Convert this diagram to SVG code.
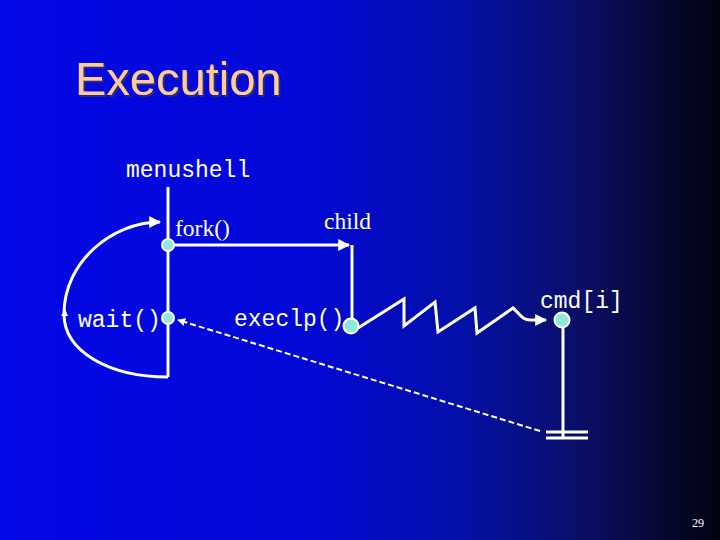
<svg xmlns="http://www.w3.org/2000/svg" width="720" height="540" viewBox="0 0 720 540">
<defs>
<linearGradient id="bg" x1="0" y1="0" x2="1" y2="0">
<stop offset="0" stop-color="#0308e6"/>
<stop offset="0.42" stop-color="#0208d6"/>
<stop offset="0.64" stop-color="#0410a8"/>
<stop offset="0.82" stop-color="#0a0e60"/>
<stop offset="1" stop-color="#020210"/>
</linearGradient>
<filter id="shadow" x="-5%" y="-10%" width="115%" height="130%">
<feOffset in="SourceAlpha" dx="2" dy="2" result="off"/>
<feFlood flood-color="#2a2a80"/>
<feComposite in2="off" operator="in" result="sh"/>
<feMerge><feMergeNode in="sh"/><feMergeNode in="SourceGraphic"/></feMerge>
</filter>
<marker id="ah" viewBox="0 0 10 10" refX="9" refY="5" markerWidth="4" markerHeight="4" orient="auto" markerUnits="strokeWidth">
<path d="M0,0 L10,5 L0,10 z" fill="#ffffff"/>
</marker>
<style>
.ln{stroke:#ffffff;stroke-width:3;fill:none}
.dot{fill:#8ee8e0;stroke:#ffffff;stroke-width:2}
.mono{font-family:"Liberation Mono","Courier New",monospace;font-size:23px;fill:#ffffff}
.serif{font-family:"Liberation Serif","Times New Roman",serif;font-size:23.5px;fill:#ffffff}
</style>
</defs>
<rect width="720" height="540" fill="url(#bg)"/>
<g id="title">
<text x="75" y="95" font-family="Liberation Sans, Arial, sans-serif" font-size="47" fill="#ffcc99" filter="url(#shadow)">Execution</text>
</g>
<g id="connectors">
<path class="ln" d="M168,187 L168,377"/>
<path class="ln" d="M168,377 C110,377 64,352 64,314 C64,262 112,222 160,222" marker-end="url(#ah)"/>
<path d="M61,316 L65,309 L68,316 z" fill="#ffffff"/>
<path class="ln" d="M168,245 L349,245" marker-end="url(#ah)"/>
<path class="ln" d="M352,245 L352,322"/>
<path class="ln" d="M358,328 L404,299 L404,326 L435,302 L438,332 L475,308 L477,333 L513,308 C520,314 522,320 530,320 L546,320" marker-end="url(#ah)" stroke-width="3.5"/>
<path class="ln" d="M563,326 L563,438"/>
<path class="ln" d="M546,432 L588,432 M546,438 L588,438" stroke-width="2.5"/>
<path d="M540,431 L178,320" stroke="#ffffff" stroke-width="2" stroke-dasharray="6,3" fill="none" marker-end="url(#ah)"/>
</g>
<g id="menushell">
<text class="mono" x="126" y="177">menushell</text>
</g>
<g id="fork">
<circle class="dot" cx="168" cy="245" r="6"/>
<text class="serif" x="175" y="236">fork()</text>
</g>
<g id="child">
<text class="serif" x="324" y="229">child</text>
</g>
<g id="wait">
<circle class="dot" cx="168" cy="318" r="6"/>
<text class="mono" x="78" y="327">wait()</text>
</g>
<g id="execlp">
<circle class="dot" cx="351" cy="326" r="7.5"/>
<text class="mono" x="234" y="326">execlp()</text>
</g>
<g id="cmd">
<circle class="dot" cx="562" cy="320" r="7.5"/>
<text class="mono" x="540" y="308">cmd[i]</text>
</g>
<g id="page">
<text x="692" y="527" font-family="Liberation Serif, serif" font-size="12" fill="#ffffff">29</text>
</g>
</svg>
